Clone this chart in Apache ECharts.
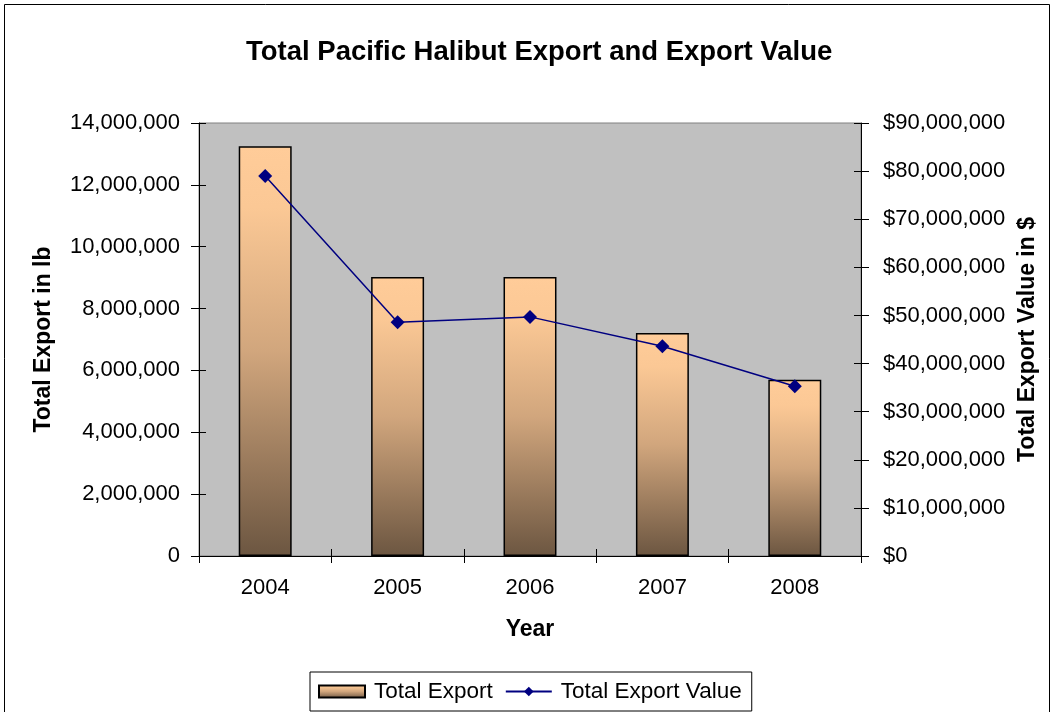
<!DOCTYPE html>
<html><head><meta charset="utf-8">
<script src="https://cdn.jsdelivr.net/npm/echarts@6/dist/echarts.min.js"></script>
<style>html,body{margin:0;padding:0;background:#fff}#c{width:1054px;height:712px}</style>
</head><body><div id="c"></div>
<script>
const years = ['2004','2005','2006','2007','2008'];
const totalExport = [13250000, 9020000, 9020000, 7210000, 5700000];
const totalExportValue = [79000000, 48600000, 49700000, 43600000, 35300000];

const fmt = v => v.toString().replace(/\B(?=(\d{3})+(?!\d))/g, ',');
const font = '"Liberation Sans", Arial, sans-serif';
const tickStyle = {color: '#000', width: 1};
const chart = echarts.init(document.getElementById('c'));
chart.setOption({
  animation: false,
  backgroundColor: '#fff',
  textStyle: {fontFamily: font},
  graphic: [{type: 'rect', shape: {x: 4.5, y: 4.5, width: 1045, height: 720}, style: {fill: 'none', stroke: '#000', lineWidth: 1}, z: -1}],
  title: {text: 'Total Pacific Halibut Export and Export Value', left: 241, top: 33,
    textStyle: {fontSize: 27.5, fontWeight: 'bold', color: '#000', fontFamily: font}},
  grid: {left: 199, right: 193, top: 123, bottom: 156, show: true, backgroundColor: '#C0C0C0', borderColor: '#808080', borderWidth: 1},
  legend: {bottom: 1, left: 310, borderColor: '#000', borderWidth: 1, padding: [8, 10, 8, 8], itemGap: 12,
    itemWidth: 46, itemHeight: 12,
    textStyle: {fontSize: 22.5, color: '#000', fontFamily: font, padding: [0, 0, 0, 4]},
    data: [{name: 'Total Export', icon: 'rect'}, {name: 'Total Export Value'}]},
  xAxis: [
    {type: 'category', data: years, name: 'Year', nameLocation: 'middle', nameGap: 62,
      nameTextStyle: {fontSize: 23, fontWeight: 'bold', color: '#000'},
      axisLine: {lineStyle: {color: '#000'}},
      axisTick: {show: true, length: 7, lineStyle: tickStyle},
      axisLabel: {fontSize: 22, color: '#000', margin: 21}},
    {type: 'category', data: years, position: 'bottom', gridIndex: 0,
      axisLine: {show: false}, axisLabel: {show: false},
      axisTick: {show: true, inside: true, length: 7, lineStyle: tickStyle}}
  ],
  yAxis: [
    {type: 'value', min: 0, max: 14000000, interval: 2000000, name: 'Total Export in lb', nameLocation: 'middle', nameGap: 144,
      nameTextStyle: {fontSize: 23, fontWeight: 'bold', color: '#000'},
      splitLine: {show: false},
      axisLine: {show: true, lineStyle: {color: '#000'}},
      axisTick: {show: true, length: 8, lineStyle: tickStyle},
      axisLabel: {fontSize: 22, color: '#000', margin: 19, formatter: fmt}},
    {type: 'value', min: 0, max: 90000000, interval: 10000000, name: 'Total Export Value in $', nameLocation: 'middle', nameGap: 155,
      nameTextStyle: {fontSize: 23, fontWeight: 'bold', color: '#000'},
      splitLine: {show: false},
      axisLine: {show: true, lineStyle: {color: '#000'}},
      axisTick: {show: true, length: 8, lineStyle: tickStyle},
      axisLabel: {fontSize: 22, color: '#000', margin: 22, formatter: v => '$' + fmt(v)}},
    {type: 'value', min: 0, max: 14000000, interval: 2000000, position: 'left',
      splitLine: {show: false}, axisLine: {show: false}, axisLabel: {show: false},
      axisTick: {show: true, inside: true, length: 7, lineStyle: tickStyle}},
    {type: 'value', min: 0, max: 90000000, interval: 10000000, position: 'right',
      splitLine: {show: false}, axisLine: {show: false}, axisLabel: {show: false},
      axisTick: {show: true, inside: true, length: 7, lineStyle: tickStyle}}
  ],
  series: [
    {name: 'Total Export', type: 'bar', data: totalExport, barWidth: '40%', yAxisIndex: 0, xAxisIndex: 0,
      itemStyle: {borderColor: '#000', borderWidth: 1.5,
        color: new echarts.graphic.LinearGradient(0, 0, 0, 1, [
          {offset: 0, color: '#FFCC99'}, {offset: 0.15, color: '#FBC895'}, {offset: 0.5, color: '#D1A67D'}, {offset: 1, color: '#6C5641'}])}},
    {name: 'Total Export Value', type: 'line', data: totalExportValue, yAxisIndex: 1, xAxisIndex: 0,
      symbol: 'diamond', symbolSize: 14, itemStyle: {color: '#000080'}, lineStyle: {color: '#000080', width: 1.5}}
  ]
});
</script></body></html>
